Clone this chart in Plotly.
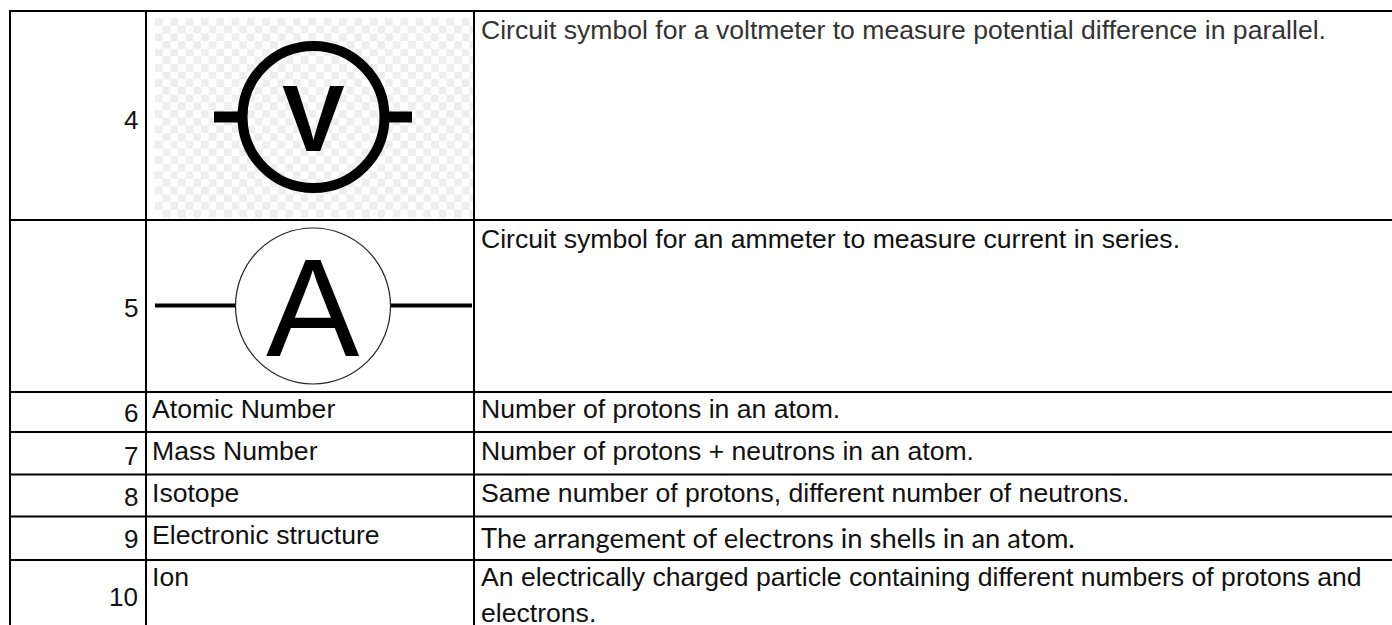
import plotly.graph_objects as go

# table contents
row_numbers = ["4", "5", "6", "7", "8", "9", "10"]
terms = ["Atomic Number", "Mass Number", "Isotope", "Electronic structure", "Ion"]
definitions = [
    "Circuit symbol for a voltmeter to measure potential difference in parallel.",
    "Circuit symbol for an ammeter to measure current in series.",
    "Number of protons in an atom.",
    "Number of protons + neutrons in an atom.",
    "Same number of protons, different number of neutrons.",
    "The arrangement of electrons in shells in an atom.",
    "An electrically charged particle containing different numbers of protons and",
    "electrons.",
]

# grid layout, in pixels
col_lines = [10, 146, 474]
row_lines = [11, 220, 392, 432, 474.5, 516.5, 560]
number_y = [120, 308, 413, 456, 497, 539, 597]
term_y = [409, 451, 493, 535, 577]
definition_y = [30, 239, 409, 451, 493, 537, 577, 613]

ARIAL = "Liberation Sans"
BLACK = "#000000"
TEXT = "#111111"

fig = go.Figure()
shapes = []
annotations = []

# checkerboard behind the voltmeter
check = 7.67
path = ""
for r in range(26):
    for c in range(42):
        if (r + c) % 2 == 0:
            x0 = 155 + c * check
            y0 = 18 + r * check
            x1 = min(x0 + check, 473)
            y1 = min(y0 + check, 218)
            if x0 < 473 and y0 < 218:
                path += f"M{x0},{y0}L{x1},{y0}L{x1},{y1}L{x0},{y1}Z "
shapes.append(dict(type="path", path=path, fillcolor="#eeeeee", line=dict(width=0), layer="below"))

# voltmeter symbol
shapes.append(dict(type="circle", x0=242.5, x1=384.5, y0=46, y1=188, line=dict(color=BLACK, width=10)))
shapes.append(dict(type="line", x0=214, x1=238, y0=117, y1=117, line=dict(color=BLACK, width=11)))
shapes.append(dict(type="line", x0=389, x1=412, y0=117, y1=117, line=dict(color=BLACK, width=11)))
annotations.append(dict(x=313.5, y=118, text="<b>V</b>", font=dict(family=ARIAL, size=94, color=BLACK),
                        xanchor="center", yanchor="middle", showarrow=False))

# ammeter symbol
shapes.append(dict(type="circle", x0=235.5, x1=390.5, y0=228, y1=384, line=dict(color="#222222", width=1.2)))
shapes.append(dict(type="line", x0=155, x1=235, y0=305.5, y1=305.5, line=dict(color=BLACK, width=4)))
shapes.append(dict(type="line", x0=391, x1=472, y0=305.5, y1=305.5, line=dict(color=BLACK, width=4)))
annotations.append(dict(x=313, y=307, text="A", font=dict(family=ARIAL, size=140, color=BLACK),
                        xanchor="center", yanchor="middle", showarrow=False))

# grid lines
for x in col_lines:
    shapes.append(dict(type="line", x0=x, x1=x, y0=10, y1=625, line=dict(color=BLACK, width=2)))
for y in row_lines:
    shapes.append(dict(type="line", x0=10, x1=1392, y0=y, y1=y, line=dict(color=BLACK, width=2)))

for label, y in zip(row_numbers, number_y):
    annotations.append(dict(x=140, y=y, text=label, font=dict(family=ARIAL, size=26, color=TEXT),
                            xanchor="right", yanchor="middle", showarrow=False))
for label, y in zip(terms, term_y):
    annotations.append(dict(x=150, y=y, text=label, font=dict(family=ARIAL, size=26.6, color=TEXT),
                            xanchor="left", yanchor="middle", showarrow=False))
for i, (label, y) in enumerate(zip(definitions, definition_y)):
    family = "Lato" if i == 5 else ARIAL
    size = 27.3 if i == 5 else 26.6
    color = "#333333" if i == 0 else TEXT
    annotations.append(dict(x=479, y=y, text=label, font=dict(family=family, size=size, color=color),
                            xanchor="left", yanchor="middle", align="left", showarrow=False))

fig.update_layout(
    width=1392, height=625,
    margin=dict(l=0, r=0, t=0, b=0),
    paper_bgcolor="white", plot_bgcolor="white",
    xaxis=dict(range=[0, 1392], visible=False, fixedrange=True),
    yaxis=dict(range=[625, 0], visible=False, fixedrange=True),
    shapes=shapes, annotations=annotations, showlegend=False,
)

fig.write_html("out.html", config=dict(displayModeBar=False), post_script="document.body.style.margin='0';")
